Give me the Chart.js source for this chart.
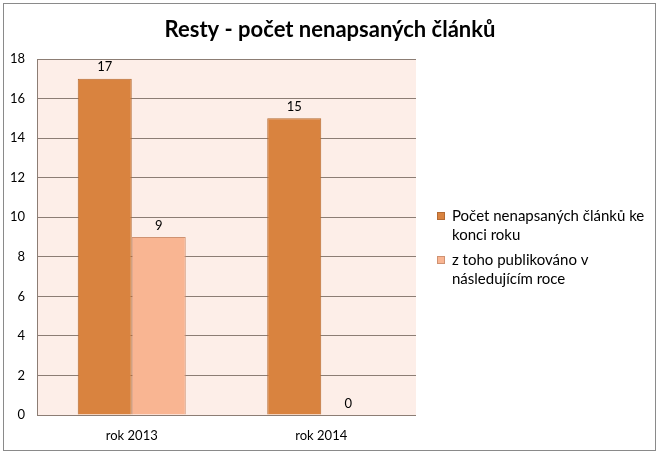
<!DOCTYPE html>
<html>
<head>
<meta charset="utf-8">
<script src="https://cdn.jsdelivr.net/npm/chart.js@4"></script>
<style>
  html, body { margin: 0; padding: 0; background: #fff; }
  #wrap { width: 660px; height: 457px; }
</style>
</head>
<body>
<div id="wrap"><canvas id="myChart"></canvas></div>
<script>
const chartTitle = 'Resty - počet nenapsaných článků';
const categories = ['rok 2013', 'rok 2014'];
const unwritten = [17, 15];
const publishedNextYear = [9, 0];
const seriesNames = ['Počet nenapsaných článků ke konci roku', 'z toho publikováno v následujícím roce'];
// legend text is wrapped onto two lines like in the original
const legendLines = [['Počet nenapsaných článků ke', 'konci roku'], ['z toho publikováno v', 'následujícím roce']];
const yTicks = [0, 2, 4, 6, 8, 10, 12, 14, 16, 18];

const FONT = 'Lato, "DejaVu Sans", sans-serif';

const decor = {
  id: 'decor',
  beforeDraw(chart) {
    const {ctx, chartArea: a} = chart;
    ctx.save();
    ctx.fillStyle = '#fdeee8';
    ctx.fillRect(a.left, a.top, a.right - a.left, a.bottom - a.top);
    ctx.restore();
  },
  afterDraw(chart) {
    const ctx = chart.ctx;
    ctx.save();
    // outer frame
    ctx.strokeStyle = '#8a8a8a';
    ctx.lineWidth = 1;
    ctx.strokeRect(3.5, 3.5, 652, 447);

    // title, centred on the whole picture
    ctx.fillStyle = '#000';
    ctx.font = 'bold 22px ' + FONT;
    ctx.textAlign = 'center';
    ctx.textBaseline = 'middle';
    ctx.fillText(chartTitle, 330, 30);

    // value labels
    ctx.font = '13px ' + FONT;
    ctx.textBaseline = 'bottom';
    chart.data.datasets.forEach((ds, i) => {
      chart.getDatasetMeta(i).data.forEach((bar, j) => {
        ctx.fillText(String(ds.data[j]), bar.x, bar.y - 5);
      });
    });

    // legend
    ctx.font = '15px ' + FONT;
    ctx.textAlign = 'left';
    ctx.textBaseline = 'middle';
    let y = 216;
    chart.data.datasets.forEach((ds, i) => {
      ctx.fillStyle = ds.backgroundColor;
      ctx.strokeStyle = ds.borderColor;
      ctx.fillRect(437, y - 4, 8, 8);
      ctx.strokeRect(437.5, y - 3.5, 7, 7);
      ctx.fillStyle = '#000';
      legendLines[i].forEach((line, k) => {
        ctx.fillText(line, 452, y + k * 19);
      });
      y += 44;
    });
    ctx.restore();
  }
};

new Chart(document.getElementById('myChart'), {
  type: 'bar',
  data: {
    labels: categories,
    datasets: [
      {
        label: seriesNames[0],
        data: unwritten,
        backgroundColor: '#d9833f',
        borderColor: '#b46a33',
        borderWidth: 1
      },
      {
        label: seriesNames[1],
        data: publishedNextYear,
        backgroundColor: '#f9b592',
        borderColor: '#cf9272',
        borderWidth: 1
      }
    ]
  },
  options: {
    responsive: true,
    maintainAspectRatio: false,
    animation: false,
    devicePixelRatio: 1,
    layout: { padding: { left: 0, right: 244, top: 59, bottom: 0 } },
    datasets: { bar: { categoryPercentage: 0.57, barPercentage: 1 } },
    plugins: {
      legend: { display: false },
      tooltip: { enabled: false },
      title: { display: false }
    },
    scales: {
      x: {
        grid: { display: false, drawTicks: false },
        border: { display: false },
        ticks: { color: '#000', font: { family: FONT, size: 13 }, padding: 13 },
        afterFit(scale) { scale.height = 42; }
      },
      y: {
        min: 0,
        max: 18,
        afterBuildTicks(scale) { scale.ticks = yTicks.map(v => ({ value: v })); },
        grid: { color: '#8c7d74', drawTicks: false },
        border: { display: true, color: '#8c7d74' },
        ticks: { color: '#000', font: { family: FONT, size: 13 }, padding: 12 },
        afterFit(scale) { scale.width = 37; }
      }
    }
  },
  plugins: [decor]
});
</script>
</body>
</html>
